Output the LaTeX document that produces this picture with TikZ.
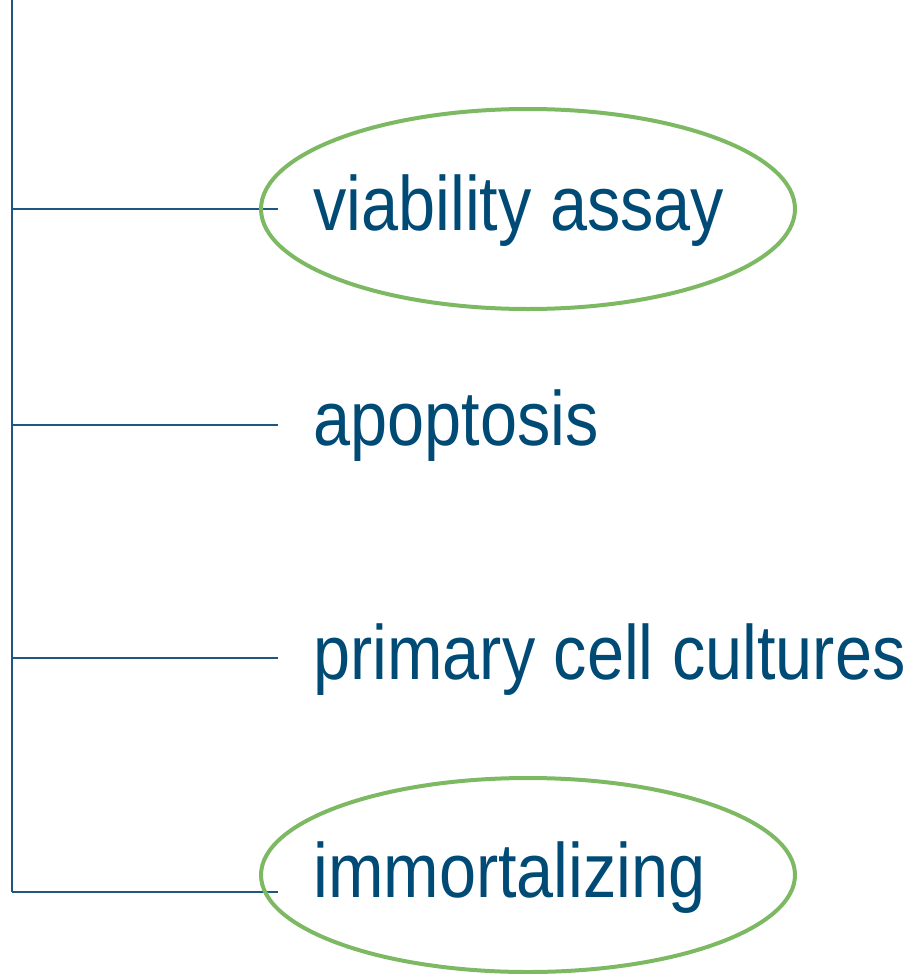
\documentclass[tikz,border=0pt]{standalone}
\usepackage{fontspec}
\setmainfont[FakeStretch=0.865]{Liberation Sans}
\usepackage{xcolor}
\definecolor{termblue}{HTML}{004A76}
\definecolor{stemblue}{HTML}{1F5783}
\definecolor{ringgreen}{HTML}{7DB962}

\begin{document}
\begin{tikzpicture}[x=0.5pt,y=-0.5pt,
  stem/.style={draw=stemblue,line width=1.1pt},
  term/.style={anchor=base west,inner sep=0pt,text=termblue,
    font=\fontsize{38.5}{40}\selectfont},
  ring/.style={draw=ringgreen,line width=2pt}]
  \useasboundingbox (0,0) rectangle (916,974);
  % trunk
  \coordinate (top) at (12,0);
  \coordinate (foot) at (12,892);
  \draw[stem] (top) -- (foot);
  % branches and terms
  \foreach \n/\y/\b/\t in {a/209/230/viability assay,
                           b/425/445/apoptosis,
                           c/658/679/primary cell cultures,
                           d/892/897/immortalizing}{
    \coordinate (from\n) at (12,\y);
    \coordinate (to\n) at (278,\y);
    \draw[stem] (from\n) -- (to\n);
    \node[term] (term\n) at (313,\b) {\t};
  }
  % highlighted terms
  \draw[ring] (528,209) ellipse [x radius=267, y radius=100];
  \draw[ring] (528,875) ellipse [x radius=267, y radius=97];
\end{tikzpicture}
\end{document}
